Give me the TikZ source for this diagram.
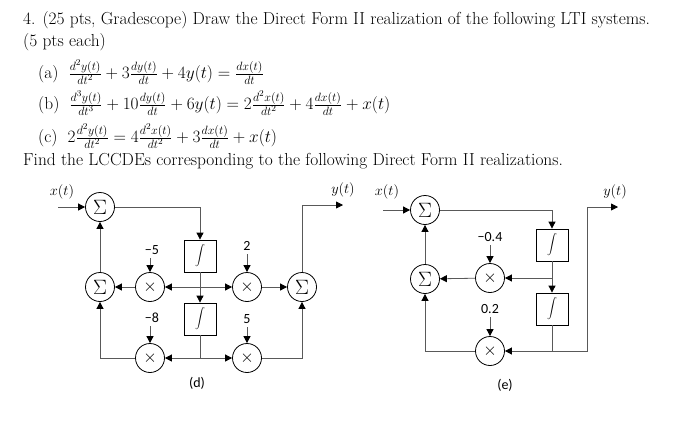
\documentclass[tikz,border=0pt]{standalone}
\usepackage{fontspec}
\newfontfamily\carl{Carlito}
\usetikzlibrary{arrows.meta}
\begin{document}
\begin{tikzpicture}[x=1pt,y=-1pt,
  sumn/.style={circle,draw,thick,minimum size=29pt,inner sep=0pt,font=\fontsize{22}{24}\selectfont},
  muln/.style={circle,draw,thick,minimum size=29pt,inner sep=0pt,font=\fontsize{16}{18}\selectfont},
  intn/.style={draw,thick,minimum width=32pt,minimum height=32pt,inner sep=0pt,font=\fontsize{16}{18}\selectfont},
  ln/.style={draw=black!65,thick},
  ar/.style={ln,-{Triangle[length=7pt,width=7pt,color=black]}},
  lab/.style={font=\fontsize{14}{16}\selectfont\carl},
  io/.style={font=\fontsize{15}{17}\selectfont},
  txt/.style={anchor=west,inner sep=0pt,font=\fontsize{17.4}{20}\selectfont}]
\useasboundingbox (0,0) rectangle (674,437);
% text
\node[txt] (t1) at (23,20) {4. (25 pts, Gradescope) Draw the Direct Form II realization of the following LTI systems.};
\node[txt] (t2) at (23,42) {(5 pts each)};
\node[txt] (ta) at (38,72) {(a)\; $\frac{d^2y(t)}{dt^2}+3\frac{dy(t)}{dt}+4y(t)=\frac{dx(t)}{dt}$};
\node[txt] (tb) at (38,103) {(b)\; $\frac{d^3y(t)}{dt^3}+10\frac{dy(t)}{dt}+6y(t)=2\frac{d^2x(t)}{dt^2}+4\frac{dx(t)}{dt}+x(t)$};
\node[txt] (tc) at (38,136) {(c)\; $2\frac{d^2y(t)}{dt^2}=4\frac{d^2x(t)}{dt^2}+3\frac{dx(t)}{dt}+x(t)$};
\node[txt] (t3) at (23,161) {Find the LCCDEs corresponding to the following Direct Form II realizations.};
% ---- (d)
\node[sumn] (ds1) at (100,207) {$\Sigma$};
\node[sumn] (ds2) at (100,287) {$\Sigma$};
\node[sumn] (ds3) at (302,287) {$\Sigma$};
\node[intn] (di1) at (200,256) {$\displaystyle\int$};
\node[intn] (di2) at (200,319) {$\displaystyle\int$};
\node[muln] (dm1) at (150,287) {$\times$};
\node[muln] (dm2) at (247,287) {$\times$};
\node[muln] (dm3) at (150,358) {$\times$};
\node[muln] (dm4) at (247,358) {$\times$};
\node[lab] (dl1) at (152,250) {−5};
\node[lab] (dl2) at (247,246) {2};
\node[lab] (dl3) at (152,318) {−8};
\node[lab] (dl4) at (247,319) {5};
\node[io] (dx) at (62,192) {$x(t)$};
\node[io] (dy) at (343,190) {$y(t)$};
\node[lab] (dd) at (197,383) {(d)};
\coordinate (din) at (58,207);
\coordinate (dout) at (343,205);
\coordinate (dj1) at (200,287);
\coordinate (dj2) at (200,358);
\draw[ar] (din) -- (ds1);
\draw[ar] (ds1) -| (di1);
\draw[ar] (di1) -- (di2);
\draw[ar] (dj1) -- (dm1);
\draw[ar] (dj1) -- (dm2);
\draw[ln] (di2) -- (dj2);
\draw[ar] (dj2) -- (dm3);
\draw[ar] (dj2) -- (dm4);
\draw[ar] (dm1) -- (ds2);
\draw[ar] (dm2) -- (ds3);
\draw[ar] (ds2) -- (ds1);
\draw[ar] (dm3) -| (ds2);
\draw[ar] (dm4) -| (ds3);
\draw[ar] (ds3) |- (dout);
\draw[ar] (dl1.south -| dm1) -- (dm1);
\draw[ar] (dl2) -- (dm2);
\draw[ar] (dl3.south -| dm3) -- (dm3);
\draw[ar] (dl4) -- (dm4);
% ---- (e)
\node[sumn] (es1) at (425,210) {$\Sigma$};
\node[sumn] (es2) at (425,279) {$\Sigma$};
\node[intn] (ei1) at (552,245) {$\displaystyle\int$};
\node[intn] (ei2) at (552,309) {$\displaystyle\int$};
\node[muln] (em1) at (490,278) {$\times$};
\node[muln] (em2) at (490,351) {$\times$};
\node[lab] (el1) at (490,237) {−0.4};
\node[lab] (el2) at (490,309) {0.2};
\node[io] (ex) at (387,192) {$x(t)$};
\node[io] (ey) at (615,192) {$y(t)$};
\node[lab] (ee) at (505,385) {(e)};
\coordinate (ein) at (383,210);
\coordinate (ej1) at (552,278);
\coordinate (ej2) at (552,351);
\coordinate (ec) at (587,351);
\coordinate (eout) at (618,207);
\draw[ar] (ein) -- (es1);
\draw[ar] (es1) -| (ei1);
\draw[ar] (ei1) -- (ei2);
\draw[ar] (ej1) -- (em1);
\draw[ln] (ei2) -- (ej2);
\draw[ar] (ej2) -- (em2);
\draw[ar] (em1) -- (es2);
\draw[ar] (em2) -| (es2);
\draw[ar] (es2) -- (es1);
\draw[ar] (ej2) -- (ec) |- (eout);
\draw[ar] (el1.south -| em1) -- (em1);
\draw[ar] (el2) -- (em2);
\end{tikzpicture}
\end{document}
